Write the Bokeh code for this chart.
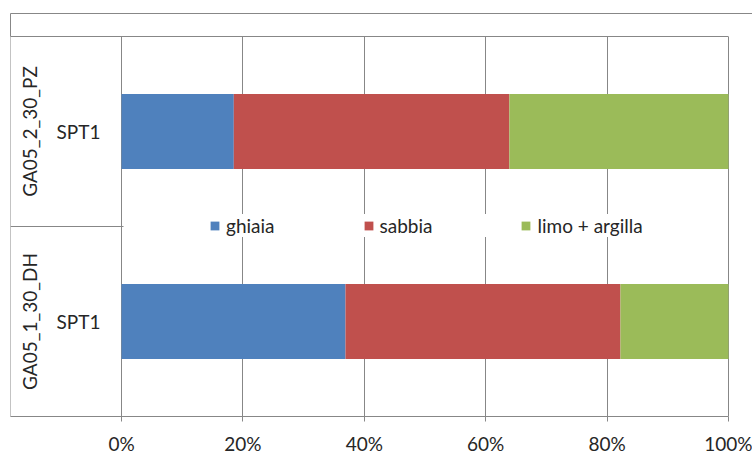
from bokeh.plotting import figure
from bokeh.models import (FactorRange, Range1d, FixedTicker, PrintfTickFormatter,
                          CategoricalAxis, LinearAxis, Legend, LegendItem,
                          ColumnDataSource)
from bokeh.embed import file_html
from bokeh.resources import INLINE

# ---------------- data ----------------
groups = ["GA05_1_30_DH", "GA05_2_30_PZ"]
samples = ["SPT1", "SPT1"]
ghiaia = [36.9, 18.5]
sabbia = [45.3, 45.4]
limo_argilla = [17.8, 36.1]
series = ["ghiaia", "sabbia", "limo + argilla"]
colors = ["#4F81BD", "#C0504D", "#9BBB59"]
x_ticks = [0, 20, 40, 60, 80, 100]

# ---------------- layout ----------------
W, H = 752, 460
FRAME_L, FRAME_T, FRAME_B = 10, 36, 416     # frame (incl. category panel)
PLOT_L, PLOT_R = 121, 728                   # 0% and 100% positions
CHART_TOP = 13                              # chart-area border
LINE = "#878787"
TXT = "#262626"
FONT = "Lato"
FS = "19px"

px = 100.0 / (PLOT_R - PLOT_L)              # data units per pixel
X0 = -(PLOT_L - FRAME_L) * px
X1 = 100 + (W - PLOT_R) * px

factors = list(zip(groups, samples))
src = ColumnDataSource(dict(y=factors, ghiaia=ghiaia, sabbia=sabbia, limo=limo_argilla))

p = figure(width=W, height=H, output_backend="svg", toolbar_location=None,
           y_range=FactorRange(*factors, group_padding=0, range_padding=0),
           x_range=Range1d(X0, X1), y_axis_location=None,
           min_border_left=FRAME_L, min_border_right=0,
           min_border_top=FRAME_T, min_border_bottom=H - FRAME_B)
p.background_fill_color = "white"
p.border_fill_color = "white"
p.outline_line_color = None

rs = p.hbar_stack(["ghiaia", "sabbia", "limo"], y="y", height=0.395,
                  color=colors, line_color=None, source=src)

# vertical gridlines 0..100 %
p.xgrid.ticker = FixedTicker(ticks=x_ticks)
p.xgrid.grid_line_color = LINE
p.ygrid.visible = False


def plain(ax):
    ax.axis_line_color = None
    ax.major_tick_line_color = None
    ax.major_tick_in = 0
    ax.major_tick_out = 0
    ax.minor_tick_in = 0
    ax.minor_tick_out = 0
    ax.major_label_standoff = 0
    ax.major_label_text_font_size = "0px"
    ax.major_label_text_color = None
    return ax


# main x axis (bottom line of chart, % labels)
xa = p.xaxis[0]
xa.bounds = (X0, 100)
xa.ticker = FixedTicker(ticks=x_ticks)
xa.formatter = PrintfTickFormatter(format="%d%%")
xa.axis_line_color = LINE
xa.major_tick_line_color = LINE
xa.major_tick_out = 5
xa.major_tick_in = 0
xa.minor_tick_out = 0
xa.minor_tick_in = 0
xa.major_label_standoff = 10
xa.major_label_text_font = FONT
xa.major_label_text_font_size = FS
xa.major_label_text_color = TXT

# chart-area left border below the plot
xb = plain(LinearAxis(fixed_location=0, ticker=FixedTicker(ticks=[X0])))
xb.major_tick_line_color = LINE
xb.major_tick_out = H - FRAME_B
p.add_layout(xb, "below")

# top line of plot area + chart-area left border above it
xt1 = plain(LinearAxis(bounds=(X0, 100), ticker=FixedTicker(ticks=[X0])))
xt1.axis_line_color = LINE
xt1.major_tick_line_color = LINE
xt1.major_tick_out = FRAME_T - CHART_TOP
p.add_layout(xt1, "above")

# chart-area top border
xt2 = plain(LinearAxis(ticker=FixedTicker(ticks=[])))
xt2.axis_line_color = LINE
p.add_layout(xt2, "above")

# left border of the category panel
yl = plain(CategoricalAxis(fixed_location=X0))
yl.axis_line_color = LINE
yl.separator_line_color = None
yl.group_text_font_size = "0px"
yl.group_text_color = None
p.add_layout(yl, "left")

# sample labels
ya = plain(CategoricalAxis(fixed_location=0))
ya.separator_line_color = None
ya.major_label_standoff = 21
ya.major_label_text_font = FONT
ya.major_label_text_font_size = FS
ya.major_label_text_color = TXT
ya.group_text_font_size = "0px"
ya.group_text_color = None
p.add_layout(ya, "left")

# group labels
yb = plain(CategoricalAxis(fixed_location=0))
yb.separator_line_color = None
yb.major_label_standoff = 81
yb.group_text_font = FONT
yb.group_text_font_size = FS
yb.group_text_font_style = "normal"
yb.group_text_color = TXT
yb.group_label_orientation = "parallel"
p.add_layout(yb, "left")

# separator between the two groups in the category panel
p.segment(x0=[X0], x1=[2 * px], y0=[1.0], y1=[1.0], line_color=LINE, line_width=1)

# legend
legend = Legend(items=[LegendItem(label=s, renderers=[r]) for s, r in zip(series, rs)],
                location=(199, 179), orientation="horizontal", spacing=88, padding=26,
                glyph_width=11, glyph_height=11, label_standoff=6,
                label_text_font=FONT, label_text_font_size=FS, label_text_color=TXT,
                border_line_color=None, background_fill_color="white",
                background_fill_alpha=1, margin=0)
p.add_layout(legend, "center")

open("out.html", "w").write(file_html(p, INLINE))
